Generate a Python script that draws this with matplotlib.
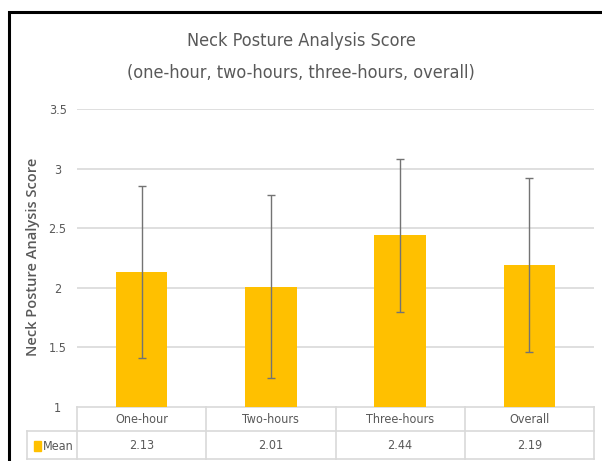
import matplotlib
matplotlib.use("Agg")
import matplotlib.pyplot as plt
from matplotlib.patches import Rectangle
from matplotlib.lines import Line2D
from matplotlib import font_manager

# chart data
categories = ["One-hour", "Two-hours", "Three-hours", "Overall"]
means = [2.13, 2.01, 2.44, 2.19]
sds = [0.72, 0.77, 0.64, 0.73]
mean_labels = ["2.13", "2.01", "2.44", "2.19"]
yticks = [1, 1.5, 2, 2.5, 3, 3.5]
ytick_labels = ["1", "1.5", "2", "2.5", "3", "3.5"]

# narrow look: DejaVu condensed when it is installed
condensed = [f for f in font_manager.fontManager.ttflist
             if f.name == "DejaVu Sans" and "ondensed" in str(f.stretch)]
narrow = ["DejaVu Sans"]
stretch = "condensed" if condensed else "normal"

text_col = "#595959"
grid_col = "#d9d9d9"
bar_col = "#FFC000"

W, H = 602, 461
fig = plt.figure(figsize=(W / 100, H / 100), dpi=100)
fig.patch.set_facecolor("white")

left, right, bottom, top = 77, 594, 407, 109
ax = fig.add_axes([left / W, 1 - bottom / H, (right - left) / W, (bottom - top) / H])

x = list(range(len(categories)))
ax.bar(x, [m - 1 for m in means], bottom=1, width=0.4, color=bar_col, zorder=3)
ax.errorbar(x, means, yerr=sds, fmt="none", ecolor="#737373", elinewidth=1.0,
            capsize=3, capthick=1.0, zorder=4)

ax.set_xlim(-0.5, len(categories) - 0.5)
ax.set_ylim(1, 3.5)
ax.set_yticks(yticks)
ax.set_yticklabels(ytick_labels, family=narrow, stretch=stretch, fontsize=9,
                   color=text_col)
ax.set_xticks([])
ax.tick_params(axis="y", length=0, pad=14)
for t in ax.get_yticklabels():
    t.set_horizontalalignment("center")
for s in ax.spines.values():
    s.set_visible(False)
for yv in yticks[1:]:
    ax.axhline(yv, color=grid_col, lw=1.2, zorder=1)

fig.text(33 / W, 1 - 257 / H, "Neck Posture Analysis Score", rotation=90,
         ha="center", va="center", family=["Open Sans", "DejaVu Sans"],
         fontsize=10.5, color=text_col, fontweight="semibold")

# data table under the plot
tr = ax.get_xaxis_transform()
ph = bottom - top
row1 = -24 / ph
row2 = -52 / ph
key_left = -0.5 - (77 - 27) / ((right - left) / 4)
for yy, x0 in [(0, -0.5), (row1, key_left), (row2, key_left)]:
    ax.add_line(Line2D([x0, 3.5], [yy, yy], transform=tr, color=grid_col,
                       lw=1.2, clip_on=False))
for i in range(len(categories) + 1):
    ax.add_line(Line2D([i - 0.5, i - 0.5], [0, row2], transform=tr, color=grid_col,
                       lw=1.2, clip_on=False))
ax.add_line(Line2D([key_left, key_left], [row1, row2], transform=tr, color=grid_col,
                   lw=1.2, clip_on=False))

for i, c in enumerate(categories):
    ax.text(i, row1 / 2, c, transform=tr, ha="center", va="center",
            family=narrow, stretch=stretch, fontsize=9, color=text_col, clip_on=False)
    ax.text(i, (row1 + row2) / 2, mean_labels[i], transform=tr, ha="center",
            va="center", family=narrow, stretch=stretch, fontsize=9,
            color=text_col, clip_on=False)

fig.patches.append(Rectangle((34 / W, 1 - 451 / H), 7 / W, 10 / H,
                             transform=fig.transFigure, color=bar_col))
fig.text(43 / W, 1 - 446 / H, "Mean", family=narrow, stretch=stretch, fontsize=9,
         color=text_col, va="center", ha="left")

# title
fig.text(0.5, 1 - 41 / H, "Neck Posture Analysis Score", ha="center", va="center",
         family=narrow, stretch=stretch, fontsize=13, color=text_col)
fig.text(0.5, 1 - 73 / H, "(one-hour, two-hours, three-hours, overall)", ha="center",
         va="center", family=narrow, stretch=stretch, fontsize=13, color=text_col)

# outer frame
fig.patches.append(Rectangle((9 / W, -0.1), 1.2, 1 - 12 / H + 0.1,
                             transform=fig.transFigure, fill=False,
                             edgecolor="black", lw=2.2))

fig.savefig("out.png", dpi=100)
